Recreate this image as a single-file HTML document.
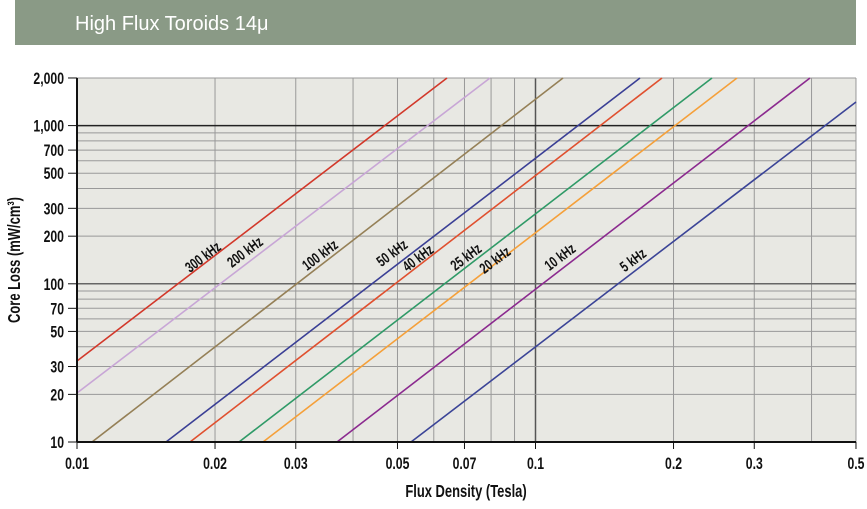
<!DOCTYPE html>
<html><head><meta charset="utf-8"><style>
body{margin:0;background:#fff;width:867px;height:504px;overflow:hidden}
</style></head><body>
<svg width="867" height="504" xmlns="http://www.w3.org/2000/svg" font-family="Liberation Sans, sans-serif">
<rect x="15" y="0" width="841" height="45" fill="#8a9a86"/>
<text x="75" y="30" font-size="20" fill="#fff">High Flux Toroids 14μ</text>
<rect x="77" y="78" width="779" height="364" fill="#e8e8e3"/>
<g id="grid" stroke="#8a8a8a" stroke-width="1"></g>
<g id="lines" stroke-width="1.6" fill="none"></g>
<g id="labels" font-size="15" font-weight="bold" fill="#111"></g>
<line x1="77" y1="78" x2="77" y2="442" stroke="#111" stroke-width="2"/>
<line x1="77" y1="442" x2="856" y2="442" stroke="#111" stroke-width="2"/>
<g id="ticks" font-size="17" font-weight="bold" fill="#111"></g>
<text transform="translate(20,260) rotate(-90) scale(0.72,1)" text-anchor="middle" font-size="18" font-weight="bold" fill="#111">Core Loss (mW/cm³)</text>
<text transform="translate(466,497) scale(0.72,1)" text-anchor="middle" font-size="18" font-weight="bold" fill="#111">Flux Density (Tesla)</text>
</svg>
<script>
const NS="http://www.w3.org/2000/svg";
function el(p,t,a,txt){const e=document.createElementNS(NS,t);for(const k in a)e.setAttribute(k,a[k]);if(txt)e.textContent=txt;document.getElementById(p).appendChild(e);return e;}
const X=v=>77+458.5*Math.log10(v/0.01), Y=v=>442-158.2*Math.log10(v/10);
[0.02,0.03,0.04,0.05,0.06,0.07,0.08,0.09,0.1,0.2,0.3,0.4,0.5].forEach(v=>{const x=X(v);el("grid","line",{x1:x,y1:78,x2:x,y2:442,stroke:v==0.1?"#555":"#999","stroke-width":v==0.1?1.5:1});});
[20,30,40,50,60,70,80,90,100,200,300,400,500,600,700,800,900,1000,2000].forEach(v=>{const y=Y(v);el("grid","line",{x1:77,y1:y,x2:856,y2:y,stroke:v==1000?"#222":(v==100?"#666":"#999"),"stroke-width":(v==100||v==1000)?1.5:1});});
const L=[["#d2382a",77,361,447,78],["#c8a6d6",77,393,490,78],["#958057",92,442,563,78],["#3a3f95",166,442,640,78],["#e0502f",190,442,662,78],["#2f9a67",239,442,712,78],["#f5a03a",263,442,737,78],["#8b2a8f",337,442,810,78],["#3b4497",411,442,856,102]];
L.forEach(l=>el("lines","polyline",{points:`${l[1]},${l[2]} ${l[3]},${l[4]}`,stroke:l[0]}));
const T=[["300 kHz",203,257],["200 kHz",245,252],["100 kHz",320,255],["50 kHz",392,253],["40 kHz",418,258],["25 kHz",466,257],["20 kHz",495,260],["10 kHz",560,257],["5 kHz",633,260]];
T.forEach(t=>el("labels","text",{transform:`translate(${t[1]},${t[2]}) rotate(-37) scale(0.72,1)`,"text-anchor":"middle",y:5},t[0]));
[[2000,"2,000"],[1000,"1,000"],[700,"700"],[500,"500"],[300,"300"],[200,"200"],[100,"100"],[70,"70"],[50,"50"],[30,"30"],[20,"20"],[10,"10"]].forEach(a=>{const y=Y(a[0]);el("ticks","line",{x1:68,y1:y,x2:77,y2:y,stroke:"#111"});el("ticks","text",{transform:`translate(64,${y+6}) scale(0.72,1)`,"text-anchor":"end"},a[1]);});
[[0.01,"0.01"],[0.02,"0.02"],[0.03,"0.03"],[0.05,"0.05"],[0.07,"0.07"],[0.1,"0.1"],[0.2,"0.2"],[0.3,"0.3"],[0.5,"0.5"]].forEach(a=>{const x=X(a[0]);el("ticks","line",{x1:x,y1:442,x2:x,y2:449,stroke:"#111"});el("ticks","text",{transform:`translate(${x},469) scale(0.72,1)`,"text-anchor":"middle"},a[1]);});
</script>
</body></html>
